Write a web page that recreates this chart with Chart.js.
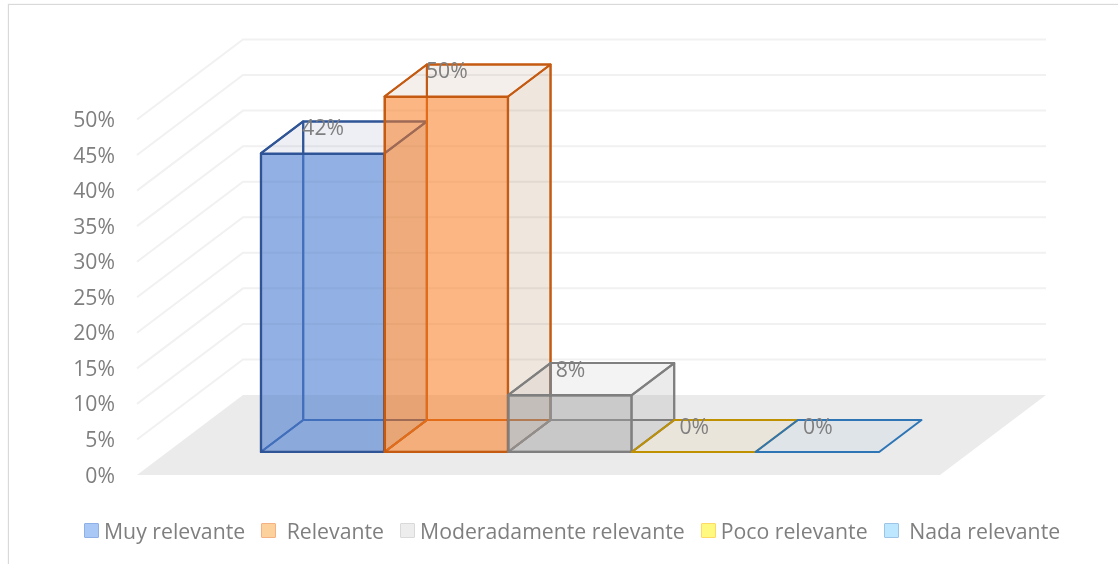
<!DOCTYPE html>
<html lang="es">
<head>
    <meta charset="UTF-8">
    <title>Relevancia</title>
    <script src="https://cdn.jsdelivr.net/npm/chart.js"></script>
    <style>
        html, body {
            margin: 0;
            padding: 0;
            background-color: #fff;
            overflow: hidden;
        }

        .frame {
            position: relative;
            width: 1118px;
            height: 564px;
        }

        /* Borde del area del grafico */
        .frame::before {
            content: "";
            position: absolute;
            left: 8px;
            top: 4px;
            right: -4px;
            bottom: -4px;
            border: 1px solid #d9d9d9;
            box-shadow: 0 0 1px #d9d9d9;
        }

        canvas {
            position: absolute;
            left: 0;
            top: 0;
        }

        .legend {
            position: absolute;
            left: 84px;
            top: 516px;
            display: flex;
            gap: 16px;
            font: 21.25px "Open Sans", sans-serif;
            color: #7f7f7f;
            white-space: pre;
        }

        .legend div {
            display: flex;
            align-items: center;
            gap: 5px;
        }

        .legend i {
            display: block;
            width: 13px;
            height: 13px;
            border: 1.5px solid;
            border-radius: 1px;
        }
    </style>
</head>
<body>
    <div class="frame">
        <canvas id="myChart" width="1118" height="564"></canvas>
        <div class="legend" id="legend"></div>
    </div>

    <script>
        var categories = ['Respuestas'];
        var seriesNames = ['Muy relevante', ' Relevante', 'Moderadamente relevante', 'Poco relevante', ' Nada relevante'];
        var seriesValues = [42, 50, 8, 0, 0];
        var tickStep = 5;
        var tickMax = 50;

        var frontColors = ['rgba(80,128,212,0.6)', 'rgba(253,125,30,0.53)', 'rgba(165,165,165,0.42)', 'rgba(255,192,0,0.1)', 'rgba(91,155,213,0.1)'];
        var wallTints = ['85,105,155', '155,105,55', '128,128,128', '155,105,55', '91,155,213'];
        var floorColors = ['rgba(68,114,196,0.03)', 'rgba(237,125,49,0.04)', 'rgba(128,128,128,0.08)', 'rgba(230,200,130,0.14)', 'rgba(91,155,213,0.08)'];
        var edgeColors = ['#2f5597', '#c55a11', '#7f7f7f', '#bf9000', '#2e75b6'];
        var swatchFill = ['#a9c8f5', '#fdd19b', '#ededed', '#fff97f', '#bde7ff'];
        var swatchEdge = ['#8fb0e6', '#f4b183', '#d9d9d9', '#ffd966', '#9dc3e6'];

        // Proyeccion: toda la profundidad del piso, y el tramo que ocupan las barras
        var depthX = 106, depthY = -80;
        var barFrom = 0.2875, barTo = 0.6875;
        var barNudge = 1;

        function project(x, y, d) {
            return [x + depthX * d, y + depthY * d];
        }

        function projectBar(x, y, d) {
            return project(x + barNudge, y, d);
        }

        function face(ctx, points, fill, edge) {
            ctx.beginPath();
            points.forEach(function (p, i) {
                if (i === 0) ctx.moveTo(p[0], p[1]);
                else ctx.lineTo(p[0], p[1]);
            });
            ctx.closePath();
            if (fill) {
                ctx.fillStyle = fill;
                ctx.fill();
            }
            if (edge) {
                ctx.strokeStyle = edge;
                ctx.lineWidth = 2;
                ctx.lineJoin = 'round';
                ctx.stroke();
            }
        }

        function drawWalls(chart) {
            var ctx = chart.ctx;
            var area = chart.chartArea;
            var yScale = chart.scales.y;
            var floorY = yScale.getPixelForValue(0);
            face(ctx, [
                [area.left, floorY],
                project(area.left, floorY, 1),
                project(area.right, floorY, 1),
                [area.right, floorY]
            ], '#ebebeb');

            ctx.save();
            ctx.strokeStyle = '#f1f1f1';
            ctx.lineWidth = 2;
            yScale.ticks.forEach(function (tick) {
                if (tick.value === 0) return;
                var y = yScale.getPixelForValue(tick.value);
                var back = project(area.left, y, 1);
                var end = project(area.right, y, 1);
                ctx.beginPath();
                ctx.moveTo(area.left, y);
                ctx.lineTo(back[0], back[1]);
                ctx.lineTo(end[0], end[1]);
                ctx.stroke();
            });
            ctx.restore();
        }

        // Caras traseras de una columna, van antes de su cara frontal
        function drawBackFaces(ctx, bar, i) {
            var left = bar.x - bar.width / 2;
            var right = bar.x + bar.width / 2;
            var top = bar.y;
            var base = bar.base;
            var pt = projectBar;

            var thin = 'rgba(' + wallTints[i] + ',0.05)';
            var thick = 'rgba(' + wallTints[i] + ',0.12)';
            var edge = edgeColors[i];

            face(ctx, [pt(left, base, barFrom), pt(right, base, barFrom), pt(right, base, barTo), pt(left, base, barTo)], floorColors[i], edge);
            if (seriesValues[i] > 0) {
                face(ctx, [pt(left, base, barTo), pt(right, base, barTo), pt(right, top, barTo), pt(left, top, barTo)], thin, edge);
                face(ctx, [pt(left, base, barFrom), pt(left, base, barTo), pt(left, top, barTo), pt(left, top, barFrom)], thin, edge);
                face(ctx, [pt(right, base, barFrom), pt(right, base, barTo), pt(right, top, barTo), pt(right, top, barFrom)], thick, edge);
                face(ctx, [pt(left, top, barFrom), pt(right, top, barFrom), pt(right, top, barTo), pt(left, top, barTo)], thin, edge);
            }
        }

        // Las columnas se pintan de izquierda a derecha, por eso se cancela el dibujo normal
        var columnsPlugin = {
            id: 'columns',
            beforeDatasetsDraw: function (chart) {
                var ctx = chart.ctx;
                var shift = projectBar(0, 0, barFrom);
                drawWalls(chart);

                seriesNames.forEach(function (name, i) {
                    var meta = chart.getDatasetMeta(i);
                    drawBackFaces(ctx, meta.data[0], i);
                    ctx.save();
                    ctx.translate(shift[0], shift[1]);
                    meta.controller.draw();
                    ctx.restore();
                });

                ctx.save();
                ctx.font = '21.2px "Open Sans", sans-serif';
                ctx.fillStyle = '#7f7f7f';
                ctx.textAlign = 'center';
                ctx.textBaseline = 'middle';
                chart.data.datasets.forEach(function (ds, i) {
                    var bar = chart.getDatasetMeta(i).data[0];
                    var p = projectBar(bar.x - bar.width / 2, bar.y, barTo);
                    ctx.fillText(ds.data[0] + '%', p[0] + 20, p[1] + 7.5);
                });
                ctx.restore();
                return false;
            }
        };

        var ctx = document.getElementById('myChart').getContext('2d');
        var myChart = new Chart(ctx, {
            type: 'bar',
            data: {
                labels: categories,
                datasets: seriesNames.map(function (name, i) {
                    return {
                        label: name,
                        data: [seriesValues[i]],
                        backgroundColor: frontColors[i],
                        borderColor: edgeColors[i],
                        borderWidth: 1.6,
                        borderSkipped: false,
                        categoryPercentage: 0.77,
                        barPercentage: 1
                    };
                })
            },
            options: {
                responsive: false,
                animation: false,
                layout: {
                    padding: { left: 0, top: 119.5, right: 178, bottom: 89 }
                },
                plugins: {
                    legend: { display: false },
                    tooltip: { enabled: false }
                },
                scales: {
                    x: { display: false },
                    y: {
                        min: 0,
                        max: tickMax,
                        afterFit: function (scale) { scale.width = 137; },
                        grid: { display: false },
                        border: { display: false },
                        ticks: {
                            stepSize: tickStep,
                            padding: 14,
                            labelOffset: 1.5,
                            color: '#7f7f7f',
                            font: { family: '"Open Sans", sans-serif', size: 21.2 },
                            callback: function (value) { return value + '%'; }
                        }
                    }
                }
            },
            plugins: [columnsPlugin]
        });

        // Leyenda propia, los espacios iniciales de los nombres se conservan
        var legend = document.getElementById('legend');
        seriesNames.forEach(function (name, i) {
            var item = document.createElement('div');
            var swatch = document.createElement('i');
            swatch.style.background = swatchFill[i];
            swatch.style.borderColor = swatchEdge[i];
            var text = document.createElement('span');
            text.textContent = name;
            item.appendChild(swatch);
            item.appendChild(text);
            legend.appendChild(item);
        });
    </script>
</body>
</html>
